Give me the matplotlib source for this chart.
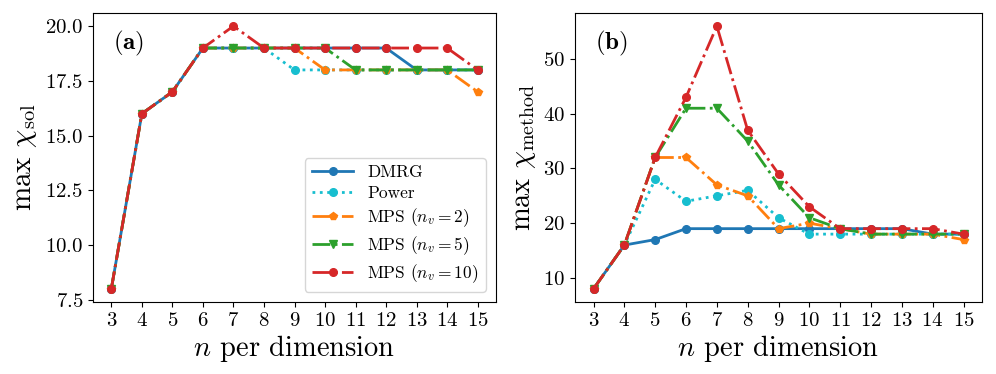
import matplotlib
matplotlib.use("Agg")
import matplotlib.pyplot as plt

plt.rcParams['font.family'] = 'serif'
plt.rcParams['font.serif'] = ['cmr10']
plt.rcParams['mathtext.fontset'] = 'cm'
plt.rcParams['axes.formatter.use_mathtext'] = True

n = [3, 4, 5, 6, 7, 8, 9, 10, 11, 12, 13, 14, 15]

# panel (a): max chi_sol
a_dmrg = [8, 16, 17, 19, 19, 19, 19, 19, 19, 19, 18, 18, 18]
a_power = [8, 16, 17, 19, 19, 19, 18, 18, 18, 18, 18, 18, 18]
a_mps2 = [8, 16, 17, 19, 19, 19, 19, 18, 18, 18, 18, 18, 17]
a_mps5 = [8, 16, 17, 19, 19, 19, 19, 19, 18, 18, 18, 18, 18]
a_mps10 = [8, 16, 17, 19, 20, 19, 19, 19, 19, 19, 19, 19, 18]

# panel (b): max chi_method
b_dmrg = [8, 16, 17, 19, 19, 19, 19, 19, 19, 19, 19, 18, 18]
b_power = [8, 16, 28, 24, 25, 26, 21, 18, 18, 18, 18, 18, 18]
b_mps2 = [8, 16, 32, 32, 27, 25, 19, 20, 19, 18, 18, 18, 17]
b_mps5 = [8, 16, 32, 41, 41, 35, 27, 21, 19, 18, 18, 18, 18]
b_mps10 = [8, 16, 32, 43, 56, 37, 29, 23, 19, 19, 19, 19, 18]

labels = ["DMRG", "Power", r"MPS ($n_v=2$)", r"MPS ($n_v=5$)", r"MPS ($n_v=10$)"]
colors = ["#1f77b4", "#17becf", "#ff7f0e", "#2ca02c", "#d62728"]
styles = ["-", ":", "-.", "-.", "-."]
markers = ["o", "o", "p", "v", "o"]

fig = plt.figure(figsize=(9.96, 3.74), dpi=100)
ax1 = fig.add_axes([93/996, 1 - 302/374, 403/996, 289/374])
ax2 = fig.add_axes([575/996, 1 - 302/374, 407/996, 289/374])

for ax, series in [(ax1, [a_dmrg, a_power, a_mps2, a_mps5, a_mps10]),
                   (ax2, [b_dmrg, b_power, b_mps2, b_mps5, b_mps10])]:
    for y, lab, c, ls, m in zip(series, labels, colors, styles, markers):
        ax.plot(n, y, linestyle=ls, marker=m, color=c, label=lab,
                linewidth=2, markersize=5.5)
    ax.set_xticks(n)
    ax.tick_params(labelsize=15)
    ax.set_xlabel(r"$n$ per dimension", fontsize=20.5, labelpad=2)

ax1.set_ylabel(r"max $\chi_{\mathrm{sol}}$", fontsize=21, labelpad=4)
ax2.set_ylabel(r"max $\chi_{\mathrm{method}}$", fontsize=20.5, labelpad=4)
ax1.set_yticks([7.5, 10.0, 12.5, 15.0, 17.5, 20.0])
ax2.set_yticks([10, 20, 30, 40, 50])

ax1.text(0.05, 0.945, r"$\mathbf{(a)}$", transform=ax1.transAxes, fontsize=18, va='top')
ax2.text(0.05, 0.945, r"$\mathbf{(b)}$", transform=ax2.transAxes, fontsize=18, va='top')

ax1.legend(loc='lower right', fontsize=12.5, labelspacing=0.3, handlelength=2.4,
           borderaxespad=0.6)

fig.savefig("out.png", dpi=100)
